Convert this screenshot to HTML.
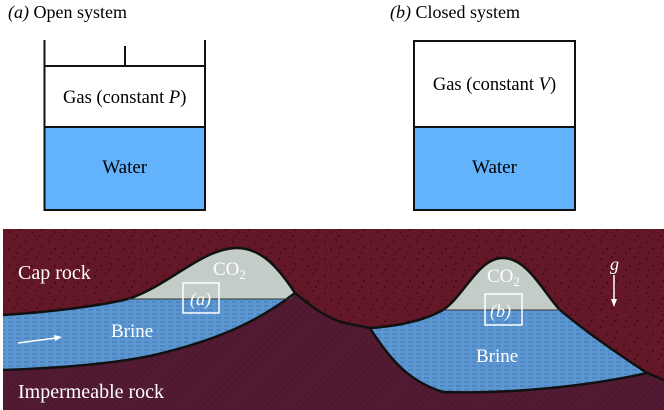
<!DOCTYPE html>
<html><head><style>
html,body{margin:0;padding:0;background:#fff;}
svg{display:block;}
text{font-family:"Liberation Serif",serif;}
</style></head><body>
<svg width="664" height="410" viewBox="0 0 664 410" xmlns="http://www.w3.org/2000/svg">
<defs>
<pattern id="dots" width="23" height="17" patternUnits="userSpaceOnUse">
<rect width="23" height="17" fill="#641726"/>
<circle cx="3" cy="4" r="0.8" fill="#1a0a0c"/><circle cx="14" cy="2" r="0.7" fill="#1a0a0c"/>
<circle cx="9" cy="11" r="0.8" fill="#1a0a0c"/><circle cx="19" cy="9" r="0.7" fill="#1a0a0c"/>
<circle cx="5" cy="15" r="0.6" fill="#1a0a0c"/><circle cx="17" cy="15" r="0.8" fill="#1a0a0c"/>
</pattern>
<pattern id="hatch" width="5" height="5" patternUnits="userSpaceOnUse" patternTransform="rotate(45)">
<rect width="5" height="5" fill="#521a33"/><line x1="0" y1="0" x2="0" y2="5" stroke="#431428" stroke-width="1"/>
</pattern>
<pattern id="brine" width="8" height="4" patternUnits="userSpaceOnUse">
<rect width="8" height="4" fill="#5b97d2"/><line x1="0" y1="2" x2="5" y2="2" stroke="#3e6fa6" stroke-width="0.8"/>
</pattern>
</defs>

<text x="8" y="18" font-size="18"><tspan font-style="italic">(a)</tspan> Open system</text>
<text x="390" y="18" font-size="18"><tspan font-style="italic">(b)</tspan> Closed system</text>

<rect x="44.5" y="127" width="160.5" height="83" fill="#62b2fc"/>
<path d="M44.5 40 V210 H205 V40 M44.5 66 H205 M125 46 V66 M44.5 127 H205" fill="none" stroke="#111" stroke-width="2"/>
<text x="124.7" y="103" font-size="18.5" text-anchor="middle">Gas (constant <tspan font-style="italic">P</tspan>)</text>
<text x="124.7" y="173" font-size="19" text-anchor="middle">Water</text>

<rect x="414" y="127" width="161" height="83" fill="#62b2fc"/>
<rect x="414" y="41" width="161" height="169" fill="none" stroke="#111" stroke-width="2"/>
<line x1="414" y1="127" x2="575" y2="127" stroke="#111" stroke-width="2"/>
<text x="494.5" y="90" font-size="18.5" text-anchor="middle">Gas (constant <tspan font-style="italic">V</tspan>)</text>
<text x="494.5" y="173" font-size="19" text-anchor="middle">Water</text>

<rect x="3" y="229" width="661" height="181" fill="url(#dots)"/>
<path d="M3 370 C60 368 110 364 150 356 C220 340 260 320 295 293 C310 305 325 318 345 323 L370 328 C390 360 410 382 443 392 C500 394 580 388 647 373 L664 380 V410 H3 Z" fill="url(#hatch)"/>
<path d="M128 299 C170 285 200 250 235 248 C262 247 280 270 295 293 L290 299 Z" fill="#c3ccc6"/>
<path d="M3 315 C50 312 100 306 128 299 L290 299 L295 294 C260 320 220 340 150 356 C110 364 60 368 3 370 Z" fill="url(#brine)"/>
<path d="M443 310 C465 295 478 258 503 258 C528 258 545 295 560 310 Z" fill="#c3ccc6"/>
<path d="M370 328 C400 326 425 320 443 310 L560 310 C590 335 620 355 647 373 C580 388 500 394 443 392 C410 382 390 360 370 328 Z" fill="url(#brine)"/>
<path d="M3 315 C50 312 100 306 128 299 C170 285 200 250 235 248 C262 247 280 270 295 293 C310 305 325 318 345 323 L370 328 C400 326 425 320 443 310 C465 295 478 258 503 258 C528 258 545 295 560 310 C590 335 620 355 647 373 L664 380" fill="none" stroke="#111" stroke-width="2.5"/>
<path d="M3 370 C60 368 110 364 150 356 C220 340 260 320 295 293" fill="none" stroke="#111" stroke-width="2.5"/>
<path d="M370 328 C390 360 410 382 443 392 C500 394 580 388 647 373" fill="none" stroke="#111" stroke-width="2.5"/>
<line x1="128" y1="299" x2="290" y2="299" stroke="#333" stroke-width="1"/>
<line x1="443" y1="310" x2="560" y2="310" stroke="#333" stroke-width="1"/>

<g fill="#fff">
<text x="18" y="279" font-size="20">Cap rock</text>
<text x="18" y="398" font-size="20">Impermeable rock</text>
<text x="111" y="337" font-size="19">Brine</text>
<text x="213" y="275" font-size="19">CO<tspan font-size="13" dy="4">2</tspan></text>
<text x="487" y="282" font-size="19">CO<tspan font-size="13" dy="4">2</tspan></text>
<text x="476" y="362" font-size="19">Brine</text>
<text x="610" y="270" font-size="18" font-style="italic">g</text>
<text x="190" y="305" font-size="18" font-style="italic">(a)</text>
<text x="490" y="317" font-size="18" font-style="italic">(b)</text>
</g>
<rect x="183" y="283" width="36" height="30" fill="none" stroke="#fff" stroke-width="1.5"/>
<rect x="485" y="294" width="37" height="31" fill="none" stroke="#fff" stroke-width="1.5"/>
<line x1="18" y1="343" x2="56" y2="338" stroke="#fff" stroke-width="1.5"/>
<path d="M62 337 L54 335 L55 341 Z" fill="#fff"/>
<line x1="614" y1="275" x2="614" y2="301" stroke="#fff" stroke-width="1.5"/>
<path d="M614 307 L611 299 L617 299 Z" fill="#fff"/>
</svg>
</body></html>
